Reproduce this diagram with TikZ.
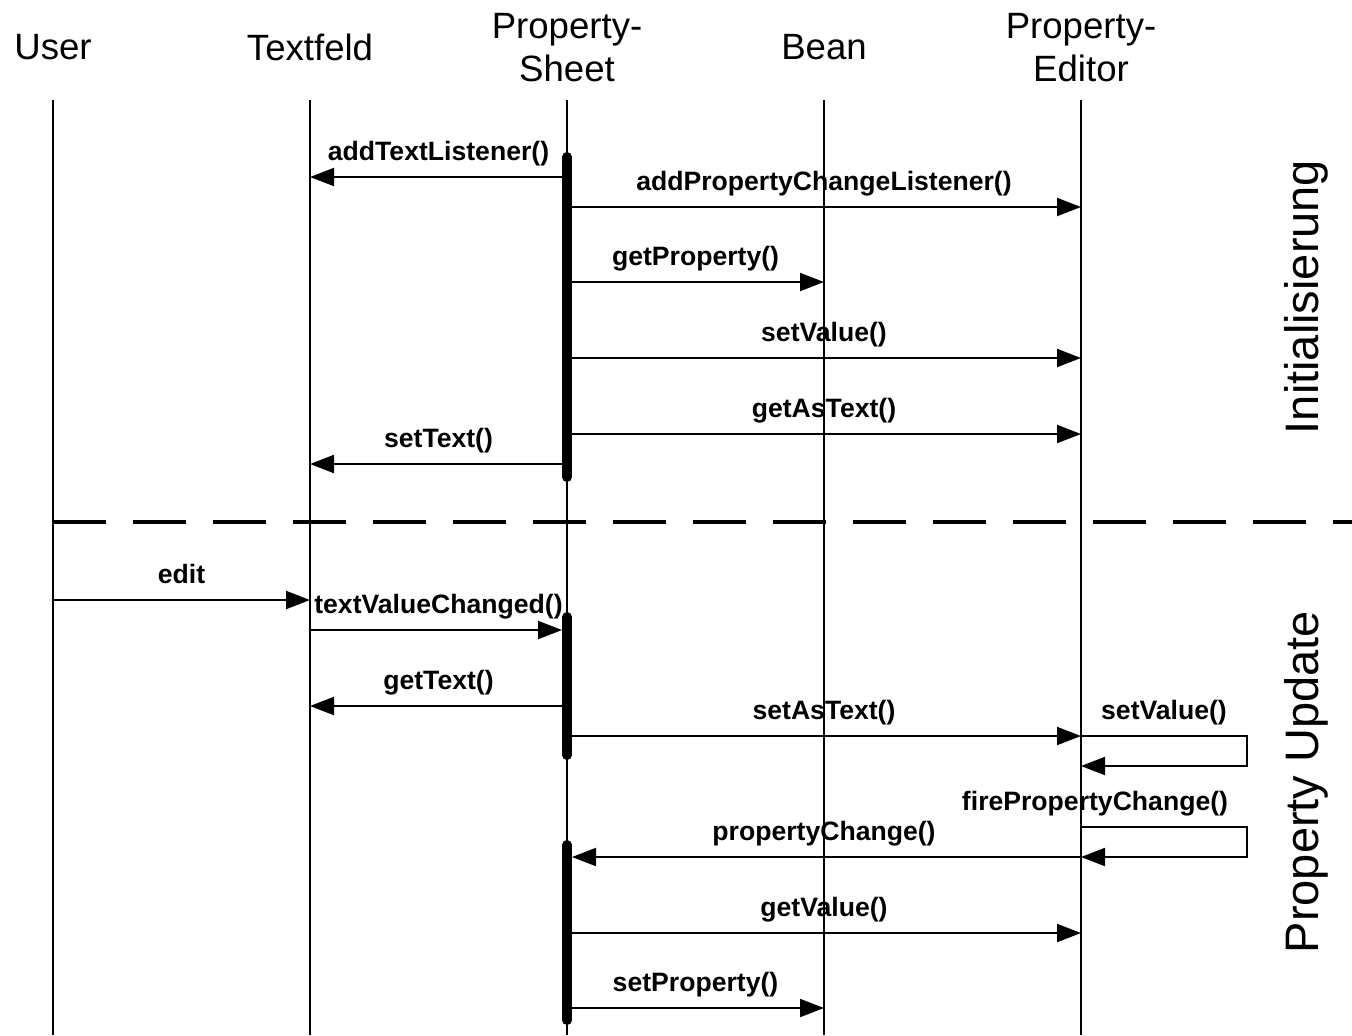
\documentclass[tikz,border=0pt]{standalone}
\usepackage{fontspec}
\setmainfont{Liberation Sans}
\usetikzlibrary{arrows.meta}

\tikzset{
  lifeline/.style={line width=1pt},
  msg/.style={line width=1pt,-{Triangle[length=12pt,width=9pt]}},
  activation/.style={line width=5pt,line cap=round},
  separator/.style={line width=2pt,dash pattern=on 26.5pt off 13.5pt},
  msglabel/.style={font=\fontsize{13.3}{16}\selectfont\bfseries,anchor=base,inner sep=0pt,yshift=8.5pt},
  header/.style={font=\fontsize{18.3}{21.5}\selectfont,align=center},
  phase/.style={font=\fontsize{23.5}{28}\selectfont,rotate=90,anchor=base,inner sep=0pt}
}

\begin{document}
\begin{tikzpicture}[x=0.5pt,y=-0.5pt]
    \useasboundingbox (0,0) rectangle (1352,1035);

    % Objects
    \node[header] (user) at (53,47) {User};
    \node[header] (tf) at (310,47) {Textfeld};
    \node[header] (ps) at (567,48) {Property-\\Sheet};
    \node[header] (bean) at (824,47) {Bean};
    \node[header] (pe) at (1081,48) {Property-\\Editor};

    % Lifelines
    \foreach \o in {user,tf,ps,bean,pe}
      \draw[lifeline] (\o |- 0,100) -- (\o |- 0,1035);

    % Phase separator
    \draw[separator] (user |- 0,522) -- (1352,522);

    % Initialisation
    \draw[msg] (ps |- 0,177) -- node[msglabel] (m1) {addTextListener()} (tf |- 0,177);
    \draw[msg] (ps |- 0,207) -- node[msglabel] (m2) {addPropertyChangeListener()} (pe |- 0,207);
    \draw[msg] (ps |- 0,282) -- node[msglabel] (m3) {getProperty()} (bean |- 0,282);
    \draw[msg] (ps |- 0,358) -- node[msglabel] (m4) {setValue()} (pe |- 0,358);
    \draw[msg] (ps |- 0,434) -- node[msglabel] (m5) {getAsText()} (pe |- 0,434);
    \draw[msg] (ps |- 0,464) -- node[msglabel] (m6) {setText()} (tf |- 0,464);

    % Property update
    \draw[msg] (user |- 0,600) -- node[msglabel] (m7) {edit} (tf |- 0,600);
    \draw[msg,shorten >=2.5pt] (tf |- 0,630) -- node[msglabel] (m8) {textValueChanged()} (ps |- 0,630);
    \draw[msg] (ps |- 0,706) -- node[msglabel] (m9) {getText()} (tf |- 0,706);
    \draw[msg] (ps |- 0,736) -- node[msglabel] (m10) {setAsText()} (pe |- 0,736);
    \draw[msg] (pe |- 0,736) -- node[msglabel] (m11) {setValue()} ++(166,0) -- ++(0,30) -- (pe |- 0,766);
    \draw[msg] (pe |- 0,827) -- ++(166,0) -- ++(0,30) -- (pe |- 0,857);
    \node[msglabel] (m12) at (1095,827) {firePropertyChange()};
    \draw[msg,shorten >=2.5pt] (pe |- 0,857) -- node[msglabel] (m13) {propertyChange()} (ps |- 0,857);
    \draw[msg] (ps |- 0,933) -- node[msglabel] (m14) {getValue()} (pe |- 0,933);
    \draw[msg] (ps |- 0,1008) -- node[msglabel] (m15) {setProperty()} (bean |- 0,1008);

    % Activations
    \draw[activation] (ps |- 0,157) -- (ps |- 0,477);
    \draw[activation] (ps |- 0,617) -- (ps |- 0,755);
    \draw[activation] (ps |- 0,845) -- (ps |- 0,1020);

    % Phases
    \node[phase] (init) at (1318,297) {Initialisierung};
    \node[phase] (update) at (1318,782) {Property Update};
  \end{tikzpicture}
\end{document}
